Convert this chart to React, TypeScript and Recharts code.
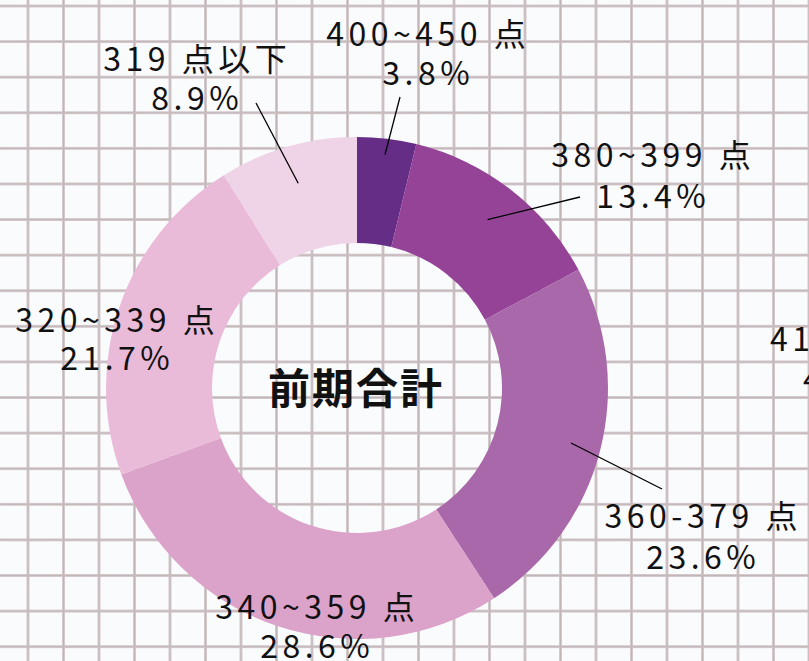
import React from "react";
import { PieChart, Pie, Cell } from "recharts";

const categories = ["400~450 点", "380~399 点", "360-379 点", "340~359 点", "320~339 点", "319 点以下"];
const shares = [3.8, 13.4, 23.6, 28.6, 21.7, 8.9];
const percentLabels = ["3.8%", "13.4%", "23.6%", "28.6%", "21.7%", "8.9%"];
const centerTitle = "前期合計";
const sliceColors = ["#652d86", "#954397", "#a968aa", "#dba2ca", "#eabbd9", "#efd4e7"];

const data = categories.map((name, i) => ({ name, value: shares[i], pct: percentLabels[i] }));

// layout: label block centre offsets from pie centre, leader line start, line end radius
const labelLayout = [
  { dx: 69, dy1: -356, dy2: -317, line: [43, -291], r: 235 },
  { dx: 294, dy1: -235, dy2: -194, line: [223, -191], r: 213 },
  { dx: 344, dy1: 126, dy2: 167, line: [305, 101], r: 221 },
  { dx: -42, dy1: 217, dy2: 256, line: null, r: 0 },
  { dx: -242, dy1: -70, dy2: -32, line: null, r: 0 },
  { dx: -162, dy1: -331, dy2: -292, line: [-101, -285], r: 213 },
];

const FONT = "'Noto Sans CJK JP', 'Noto Sans', sans-serif";
const RAD = Math.PI / 180;
const LS = 4.5;
const FS = 32;

const renderLabel = (props: any) => {
  const { cx, cy, midAngle, index } = props;
  const L = labelLayout[index];
  const x = cx + L.dx + LS / 2;
  const ex = cx + L.r * Math.cos(-midAngle * RAD);
  const ey = cy + L.r * Math.sin(-midAngle * RAD);
  return (
    <g key={`lab-${index}`}>
      {L.line && (
        <line x1={cx + L.line[0]} y1={cy + L.line[1]} x2={ex} y2={ey} stroke="#000" strokeWidth={1.3} />
      )}
      <text x={x} y={cy + L.dy1} textAnchor="middle" dominantBaseline="central" fontFamily={FONT}
        fontSize={FS} letterSpacing={LS} fill="#111">
        {data[index].name}
      </text>
      <text x={x} y={cy + L.dy2} textAnchor="middle" dominantBaseline="central" fontFamily={FONT}
        fontSize={FS} letterSpacing={LS} fill="#111">
        {data[index].pct}
      </text>
    </g>
  );
};

const gridLine = "linear-gradient(to right, rgba(220,211,214,0.7) 0px, #c2b5b8 1px, #c2b5b8 2px, rgba(220,211,214,0.7) 3px, transparent 3px)";
const gridLineH = "linear-gradient(to bottom, rgba(220,211,214,0.7) 0px, #c2b5b8 1px, #c2b5b8 2px, rgba(220,211,214,0.7) 3px, transparent 3px)";

export default function App() {
  return (
    <div
      style={{
        position: "fixed",
        left: 0,
        top: 0,
        width: 809,
        height: 661,
        overflow: "hidden",
        backgroundColor: "#fafbfd",
        backgroundImage: `${gridLine}, ${gridLineH}`,
        backgroundSize: "35.5px 35.6px",
        backgroundPosition: "26.5px 4.5px",
      }}
    >
      <PieChart width={809} height={661} margin={{ top: 0, right: 0, bottom: 0, left: 0 }}>
        <Pie
          data={data}
          dataKey="value"
          nameKey="name"
          cx={357}
          cy={388}
          innerRadius={145}
          outerRadius={251}
          startAngle={90}
          endAngle={-270}
          stroke="none"
          label={renderLabel}
          labelLine={false}
          isAnimationActive={false}
        >
          {data.map((d, i) => (
            <Cell key={d.name} fill={sliceColors[i]} />
          ))}
        </Pie>
        <text x={356} y={385} textAnchor="middle" dominantBaseline="central" fontFamily={FONT}
          fontWeight={700} fontSize={42} letterSpacing={2} fill="#111">
          {centerTitle}
        </text>
        <text x={770} y={337} textAnchor="start" dominantBaseline="central" fontFamily={FONT}
          fontSize={FS} letterSpacing={LS} fill="#111">
          410~450 点
        </text>
        <text x={803} y={377} textAnchor="start" dominantBaseline="central" fontFamily={FONT}
          fontSize={FS} letterSpacing={LS} fill="#111">
          4.5%
        </text>
      </PieChart>
    </div>
  );
}
